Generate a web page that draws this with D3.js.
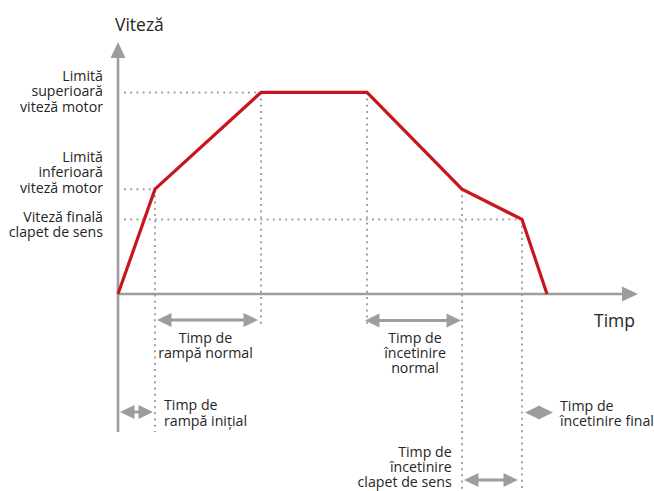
<!DOCTYPE html>
<html>
<head>
<meta charset="utf-8">
<script src="https://cdn.jsdelivr.net/npm/d3@7"></script>
<style>
  html, body { margin: 0; padding: 0; background: #fff; }
  svg { display: block; }
  text { font-family: "Open Sans", "Noto Sans", sans-serif; fill: #262626; }
</style>
</head>
<body>
<div id="chart"></div>
<script>
// Speed profile: breakpoints in time and the speed reached at each one
const timePoints  = [0, 37, 143, 249, 344, 404, 429];
const speedPoints = [0, 52, 100, 100, 52, 37, 0];

// Reference speed levels and their labels on the left
const levelValues = [100, 52, 37];
const levelLabels = [
  ["Limită", "superioară", "viteză motor"],
  ["Limită", "inferioară", "viteză motor"],
  ["Viteză finală", "clapet de sens"]
];

// Time intervals marked with double arrows (indices into timePoints)
const spanStart  = [1, 3, 0, 5, 4];
const spanEnd    = [2, 4, 1, 6, 5];
const spanLabels = [
  ["Timp de", "rampă normal"],
  ["Timp de", "încetinire", "normal"],
  ["Timp de", "rampă inițial"],
  ["Timp de", "încetinire final"],
  ["Timp de", "încetinire", "clapet de sens"]
];

const axisTitleY = "Viteză";
const axisTitleX = "Timp";

// ---- layout ----
const W = 654, H = 491;
const x0 = 118, y0 = 294;
const x = d3.scaleLinear().domain([0, 520]).range([x0, 638]);
const y = d3.scaleLinear().domain([0, 125]).range([y0, 42]);

const grey = "#9d9d9d";
const dotGrey = "#a3a3a3";
const red = "#c8161d";
const fontSize = 14.2;

const svg = d3.select("#chart").append("svg")
  .attr("width", W).attr("height", H);

// dotted guide lines
const guides = svg.append("g")
  .attr("stroke", dotGrey)
  .attr("stroke-width", 2)
  .attr("stroke-dasharray", "2,4.2")
  .attr("fill", "none");

// horizontal guides: from the axis to where the profile reaches each level
levelValues.forEach(v => {
  const i = speedPoints.findIndex((s, k) => k > 0 && s === v);
  guides.append("line")
    .attr("x1", x0 + 6).attr("x2", x(timePoints[i]))
    .attr("y1", y(v)).attr("y2", y(v));
});

// vertical guides: from each breakpoint down to its arrow row
const vGuideIdx = [1, 2, 3, 4, 5];
const vGuideBottom = [432, 328, 328, H, H];
vGuideIdx.forEach((i, k) => {
  guides.append("line")
    .attr("x1", x(timePoints[i])).attr("x2", x(timePoints[i]))
    .attr("y1", y(speedPoints[i])).attr("y2", vGuideBottom[k]);
});

// axes with arrowheads
const axes = svg.append("g");
const headL = 16, headW = 7.5;
const yTop = y.range()[1], xEnd = x.range()[1];
axes.append("line")
  .attr("x1", x0).attr("x2", x0)
  .attr("y1", 432).attr("y2", yTop + headL - 1)
  .attr("stroke", grey).attr("stroke-width", 2.6);
axes.append("path")
  .attr("d", `M${x0},${yTop} L${x0 - headW},${yTop + headL} L${x0 + headW},${yTop + headL} Z`)
  .attr("fill", grey);
axes.append("line")
  .attr("x1", x0 - 1).attr("x2", xEnd - headL + 1)
  .attr("y1", y0).attr("y2", y0)
  .attr("stroke", grey).attr("stroke-width", 2.6);
axes.append("path")
  .attr("d", `M${xEnd},${y0} L${xEnd - headL},${y0 - headW} L${xEnd - headL},${y0 + headW} Z`)
  .attr("fill", grey);

// speed profile
const line = d3.line().x((d, i) => x(timePoints[i])).y(d => y(d));
svg.append("path")
  .datum(speedPoints)
  .attr("d", line)
  .attr("fill", "none")
  .attr("stroke", red)
  .attr("stroke-width", 3.2)
  .attr("stroke-linejoin", "miter");

// axis titles
svg.append("text").attr("x", 115).attr("y", 31)
  .attr("font-size", 17.5).text(axisTitleY);
svg.append("text").attr("x", 635).attr("y", 327)
  .attr("text-anchor", "end").attr("font-size", 17.5).text(axisTitleX);

// level labels
const levelFirstBaseline = [80.7, 161.7, 221.7];
const levelLineGap = [15.5, 15.5, 15.3];
levelLabels.forEach((lines, k) => {
  const t = svg.append("text")
    .attr("text-anchor", "end")
    .attr("font-size", fontSize);
  lines.forEach((s, j) => {
    t.append("tspan").attr("x", 103)
      .attr("y", levelFirstBaseline[k] + j * levelLineGap[k]).text(s);
  });
});

// double-headed arrows
function doubleArrow(g, xa, xb, yy) {
  const hl = 14.5, hw = 7;
  const s1 = xa + hl - 1, s2 = xb - hl + 1;
  if (s2 > s1) {
    g.append("line").attr("x1", s1).attr("x2", s2)
      .attr("y1", yy).attr("y2", yy)
      .attr("stroke", grey).attr("stroke-width", 3);
  }
  g.append("path")
    .attr("d", `M${xa},${yy} L${xa + hl},${yy - hw} L${xa + hl},${yy + hw} Z`)
    .attr("fill", grey);
  g.append("path")
    .attr("d", `M${xb},${yy} L${xb - hl},${yy - hw} L${xb - hl},${yy + hw} Z`)
    .attr("fill", grey);
}

const spanRowY    = [320, 320.5, 412, 412.5, 480];
const spanInset   = [[2, 3], [-2, 1], [2, 2], [3, -6], [2, 4]];
const spanAnchor  = ["middle", "middle", "start", "start", "end"];
const spanLabelX  = [205.5, 415, 164, 560, 451.7];
const spanBaseline = [343, 343, 410, 410.5, 456.7];
const spanGap     = [15, 15, 15.7, 15.5, 15.2];

const arrows = svg.append("g");
spanStart.forEach((si, k) => {
  const xa = x(timePoints[si]) + spanInset[k][0];
  const xb = x(timePoints[spanEnd[k]]) - spanInset[k][1];
  doubleArrow(arrows, xa, xb, spanRowY[k]);
  const t = svg.append("text")
    .attr("text-anchor", spanAnchor[k])
    .attr("font-size", fontSize);
  spanLabels[k].forEach((s, j) => {
    t.append("tspan").attr("x", spanLabelX[k])
      .attr("y", spanBaseline[k] + j * spanGap[k]).text(s);
  });
});
</script>
</body>
</html>
